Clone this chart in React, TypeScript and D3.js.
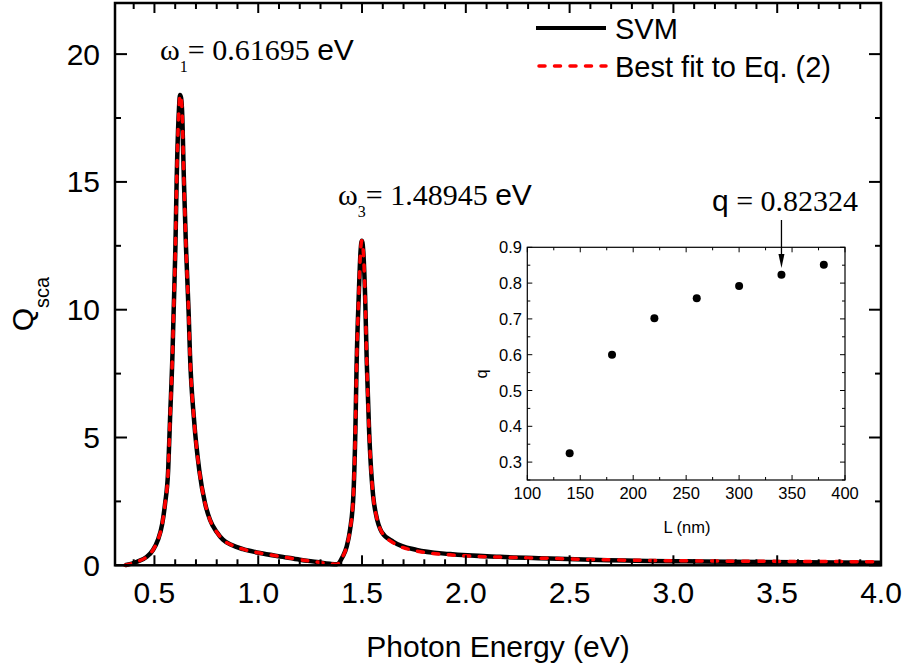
import React from "react";
import * as d3 from "d3";

// Main spectrum
const energy = [0.358, 0.416, 0.464, 0.493, 0.517, 0.537, 0.551, 0.566, 0.575, 0.587, 0.592, 0.601, 0.607, 0.616, 0.619, 0.623, 0.628, 0.633, 0.642, 0.652, 0.665, 0.671, 0.691, 0.716, 0.744, 0.768, 0.80, 0.83, 0.87, 0.927, 1.008, 1.119, 1.201, 1.283, 1.345, 1.379, 1.407, 1.426, 1.442, 1.458, 1.468, 1.474, 1.484, 1.493, 1.499, 1.505, 1.515, 1.523, 1.534, 1.554, 1.567, 1.595, 1.651, 1.763, 1.924, 2.165, 2.406, 2.646, 3.128, 3.610, 4.0];
const svmQ = [0.0, 0.14, 0.34, 0.6, 1.0, 1.6, 2.4, 3.7, 5.7, 8.3, 9.8, 12.45, 15.05, 17.5, 18.0, 18.4, 18.3, 17.8, 15.05, 12.45, 9.84, 8.29, 5.67, 3.72, 2.42, 1.77, 1.3, 1.0, 0.8, 0.63, 0.48, 0.33, 0.22, 0.13, 0.06, 0.04, 0.34, 0.73, 1.38, 2.68, 5.29, 7.9, 10.5, 12.3, 12.7, 12.4, 10.5, 7.9, 5.29, 2.68, 2.0, 1.3, 0.92, 0.6, 0.44, 0.33, 0.27, 0.21, 0.15, 0.12, 0.1];
const fitQ = [0.0, 0.14, 0.34, 0.6, 1.0, 1.6, 2.4, 3.7, 5.7, 8.3, 9.8, 12.45, 15.05, 17.5, 18.0, 18.4, 18.3, 17.8, 15.05, 12.45, 9.84, 8.29, 5.67, 3.72, 2.42, 1.77, 1.3, 1.0, 0.8, 0.63, 0.48, 0.33, 0.22, 0.13, 0.06, 0.04, 0.34, 0.73, 1.38, 2.68, 5.29, 7.9, 10.5, 12.3, 12.7, 12.4, 10.5, 7.9, 5.29, 2.68, 2.0, 1.3, 0.88, 0.56, 0.41, 0.32, 0.27, 0.22, 0.17, 0.15, 0.14];

const xTicks = [0.5, 1.0, 1.5, 2.0, 2.5, 3.0, 3.5, 4.0];
const xTickLabels = ["0.5", "1.0", "1.5", "2.0", "2.5", "3.0", "3.5", "4.0"];
const yTicks = [0, 5, 10, 15, 20];
const yMinor = [2.5, 7.5, 12.5, 17.5];

// Inset
const insetL = [140, 180, 220, 260, 300, 340, 380];
const insetQ = [0.325, 0.6, 0.702, 0.758, 0.792, 0.823, 0.851];
const insetXTicks = [100, 150, 200, 250, 300, 350, 400];
const insetYTicks = [0.3, 0.4, 0.5, 0.6, 0.7, 0.8, 0.9];

const SANS = "'Liberation Sans', Arial, sans-serif";
const SERIF = "'Liberation Serif', 'Times New Roman', serif";

export default function App() {
  const W = 909, H = 667;
  const x = d3.scaleLinear().domain([0.31, 4.0]).range([115, 881]);
  const y = d3.scaleLinear().domain([0, 22]).range([565.3, 3]);
  const pts = energy.map((e, i) => [e, svmQ[i]] as [number, number]);
  const fpts = energy.map((e, i) => [e, fitQ[i]] as [number, number]);
  const line = d3.line<[number, number]>().x(d => x(d[0])).y(d => y(d[1])).curve(d3.curveMonotoneX);

  const xMinor: number[] = [];
  for (let v = 0.4; v < 4.0; v += 0.1) {
    const r = Math.round(v * 10) / 10;
    if (Math.abs(r * 2 - Math.round(r * 2)) > 1e-6) xMinor.push(r);
  }

  const ix = d3.scaleLinear().domain([100, 400]).range([527.3, 845]);
  const iy = d3.scaleLinear().domain([0.25, 0.9]).range([480, 247.3]);
  const ixMinor = [125, 175, 225, 275, 325, 375];
  const iyMinor = [0.25, 0.35, 0.45, 0.55, 0.65, 0.75, 0.85];

  const [x0, x1] = x.range();
  const [y0, y1] = y.range();
  const [ix0, ix1] = ix.range();
  const [iy0, iy1] = iy.range();

  const arrowX = ix(insetL[5]);

  return (
    <svg width={W} height={H} style={{ position: "absolute", left: 0, top: 0, background: "#fff" }}>
      <rect x={0} y={0} width={W} height={H} fill="#fff" />
      {/* curves */}
      <path d={line(pts) || ""} fill="none" stroke="#000" strokeWidth={4.5} strokeLinejoin="round" />
      <path d={line(fpts) || ""} fill="none" stroke="#ff0000" strokeWidth={3.5} strokeDasharray="6,9.5" strokeLinecap="round" />

      {/* frame */}
      <rect x={x0} y={y1} width={x1 - x0} height={y0 - y1} fill="none" stroke="#000" strokeWidth={2.5} />
      {/* x ticks */}
      {xTicks.map(t => (
        <g key={"xt" + t}>
          <line x1={x(t)} x2={x(t)} y1={y0} y2={y0 - 10} stroke="#000" strokeWidth={2} />
          <line x1={x(t)} x2={x(t)} y1={y1} y2={y1 + 10} stroke="#000" strokeWidth={2} />
        </g>
      ))}
      {xMinor.map(t => (
        <g key={"xm" + t}>
          <line x1={x(t)} x2={x(t)} y1={y0} y2={y0 - 6} stroke="#000" strokeWidth={2} />
          <line x1={x(t)} x2={x(t)} y1={y1} y2={y1 + 6} stroke="#000" strokeWidth={2} />
        </g>
      ))}
      {xTicks.map((t, i) => (
        <text key={"xl" + t} x={x(t)} y={603} textAnchor="middle" fontFamily={SANS} fontSize={30}>{xTickLabels[i]}</text>
      ))}
      {/* y ticks */}
      {yTicks.map(t => (
        <g key={"yt" + t}>
          <line x1={x0} x2={x0 + 12} y1={y(t)} y2={y(t)} stroke="#000" strokeWidth={2} />
          <line x1={x1} x2={x1 - 12} y1={y(t)} y2={y(t)} stroke="#000" strokeWidth={2} />
          <text x={100} y={y(t) + 10.5} textAnchor="end" fontFamily={SANS} fontSize={30}>{t}</text>
        </g>
      ))}
      {yMinor.map(t => (
        <g key={"ym" + t}>
          <line x1={x0} x2={x0 + 6} y1={y(t)} y2={y(t)} stroke="#000" strokeWidth={2} />
          <line x1={x1} x2={x1 - 6} y1={y(t)} y2={y(t)} stroke="#000" strokeWidth={2} />
        </g>
      ))}
      {/* axis titles */}
      <text x={498} y={657} textAnchor="middle" fontFamily={SANS} fontSize={30}>Photon Energy (eV)</text>
      <text transform="translate(33,304) rotate(-90)" textAnchor="middle" fontFamily={SANS} fontSize={30}>
        Q<tspan fontSize={20} dy={16}>sca</tspan>
      </text>

      {/* annotations */}
      <text x={160} y={60} fontFamily={SERIF} fontSize={30}>
        ω<tspan fontSize={16} dy={12}>1</tspan><tspan dy={-12}>= 0.61695 </tspan><tspan fontFamily={SANS}>eV</tspan>
      </text>
      <text x={338} y={205} fontFamily={SERIF} fontSize={30}>
        ω<tspan fontSize={16} dy={12}>3</tspan><tspan dy={-12}>= 1.48945 </tspan><tspan fontFamily={SANS}>eV</tspan>
      </text>
      <text x={712} y={211} fontFamily={SERIF} fontSize={30}>
        <tspan fontFamily={SANS}>q</tspan> = 0.82324
      </text>

      {/* legend */}
      <line x1={536} x2={606} y1={28} y2={28} stroke="#000" strokeWidth={4} />
      <text x={615} y={39} fontFamily={SANS} fontSize={29}>SVM</text>
      <line x1={539} x2={606} y1={66} y2={66} stroke="#ff0000" strokeWidth={3.5} strokeDasharray="6,9.5" strokeLinecap="round" />
      <text x={615} y={77} fontFamily={SANS} fontSize={29}>Best fit to Eq. (2)</text>

      {/* inset */}
      <rect x={ix0} y={iy1} width={ix1 - ix0} height={iy0 - iy1} fill="#fff" stroke="#000" strokeWidth={1.2} />
      {insetXTicks.map(t => (
        <g key={"ixt" + t}>
          <line x1={ix(t)} x2={ix(t)} y1={iy0} y2={iy0 - 5} stroke="#000" strokeWidth={1} />
          <line x1={ix(t)} x2={ix(t)} y1={iy1} y2={iy1 + 5} stroke="#000" strokeWidth={1} />
          <text x={ix(t)} y={499} textAnchor="middle" fontFamily={SANS} fontSize={16.5}>{t}</text>
        </g>
      ))}
      {ixMinor.map(t => (
        <g key={"ixm" + t}>
          <line x1={ix(t)} x2={ix(t)} y1={iy0} y2={iy0 - 3} stroke="#000" strokeWidth={1} />
          <line x1={ix(t)} x2={ix(t)} y1={iy1} y2={iy1 + 3} stroke="#000" strokeWidth={1} />
        </g>
      ))}
      {insetYTicks.map(t => (
        <g key={"iyt" + t}>
          <line x1={ix0} x2={ix0 + 5} y1={iy(t)} y2={iy(t)} stroke="#000" strokeWidth={1} />
          <line x1={ix1} x2={ix1 - 5} y1={iy(t)} y2={iy(t)} stroke="#000" strokeWidth={1} />
          <text x={522} y={iy(t) + 6} textAnchor="end" fontFamily={SANS} fontSize={16.5}>{t.toFixed(1)}</text>
        </g>
      ))}
      {iyMinor.map(t => (
        <g key={"iym" + t}>
          <line x1={ix0} x2={ix0 + 3} y1={iy(t)} y2={iy(t)} stroke="#000" strokeWidth={1} />
          <line x1={ix1} x2={ix1 - 3} y1={iy(t)} y2={iy(t)} stroke="#000" strokeWidth={1} />
        </g>
      ))}
      {insetL.map((l, i) => (
        <circle key={"pt" + l} cx={ix(l)} cy={iy(insetQ[i])} r={4} fill="#000" />
      ))}
      <text x={687} y={533} textAnchor="middle" fontFamily={SANS} fontSize={16.5}>L (nm)</text>
      <text transform="translate(487,374) rotate(-90)" textAnchor="middle" fontFamily={SANS} fontSize={16.5}>q</text>
      {/* arrow */}
      <line x1={arrowX} x2={arrowX} y1={220} y2={256} stroke="#000" strokeWidth={1.3} />
      <path d={`M${arrowX - 3},${254} L${arrowX + 3},${254} L${arrowX},${268} Z`} fill="#000" />
    </svg>
  );
}
